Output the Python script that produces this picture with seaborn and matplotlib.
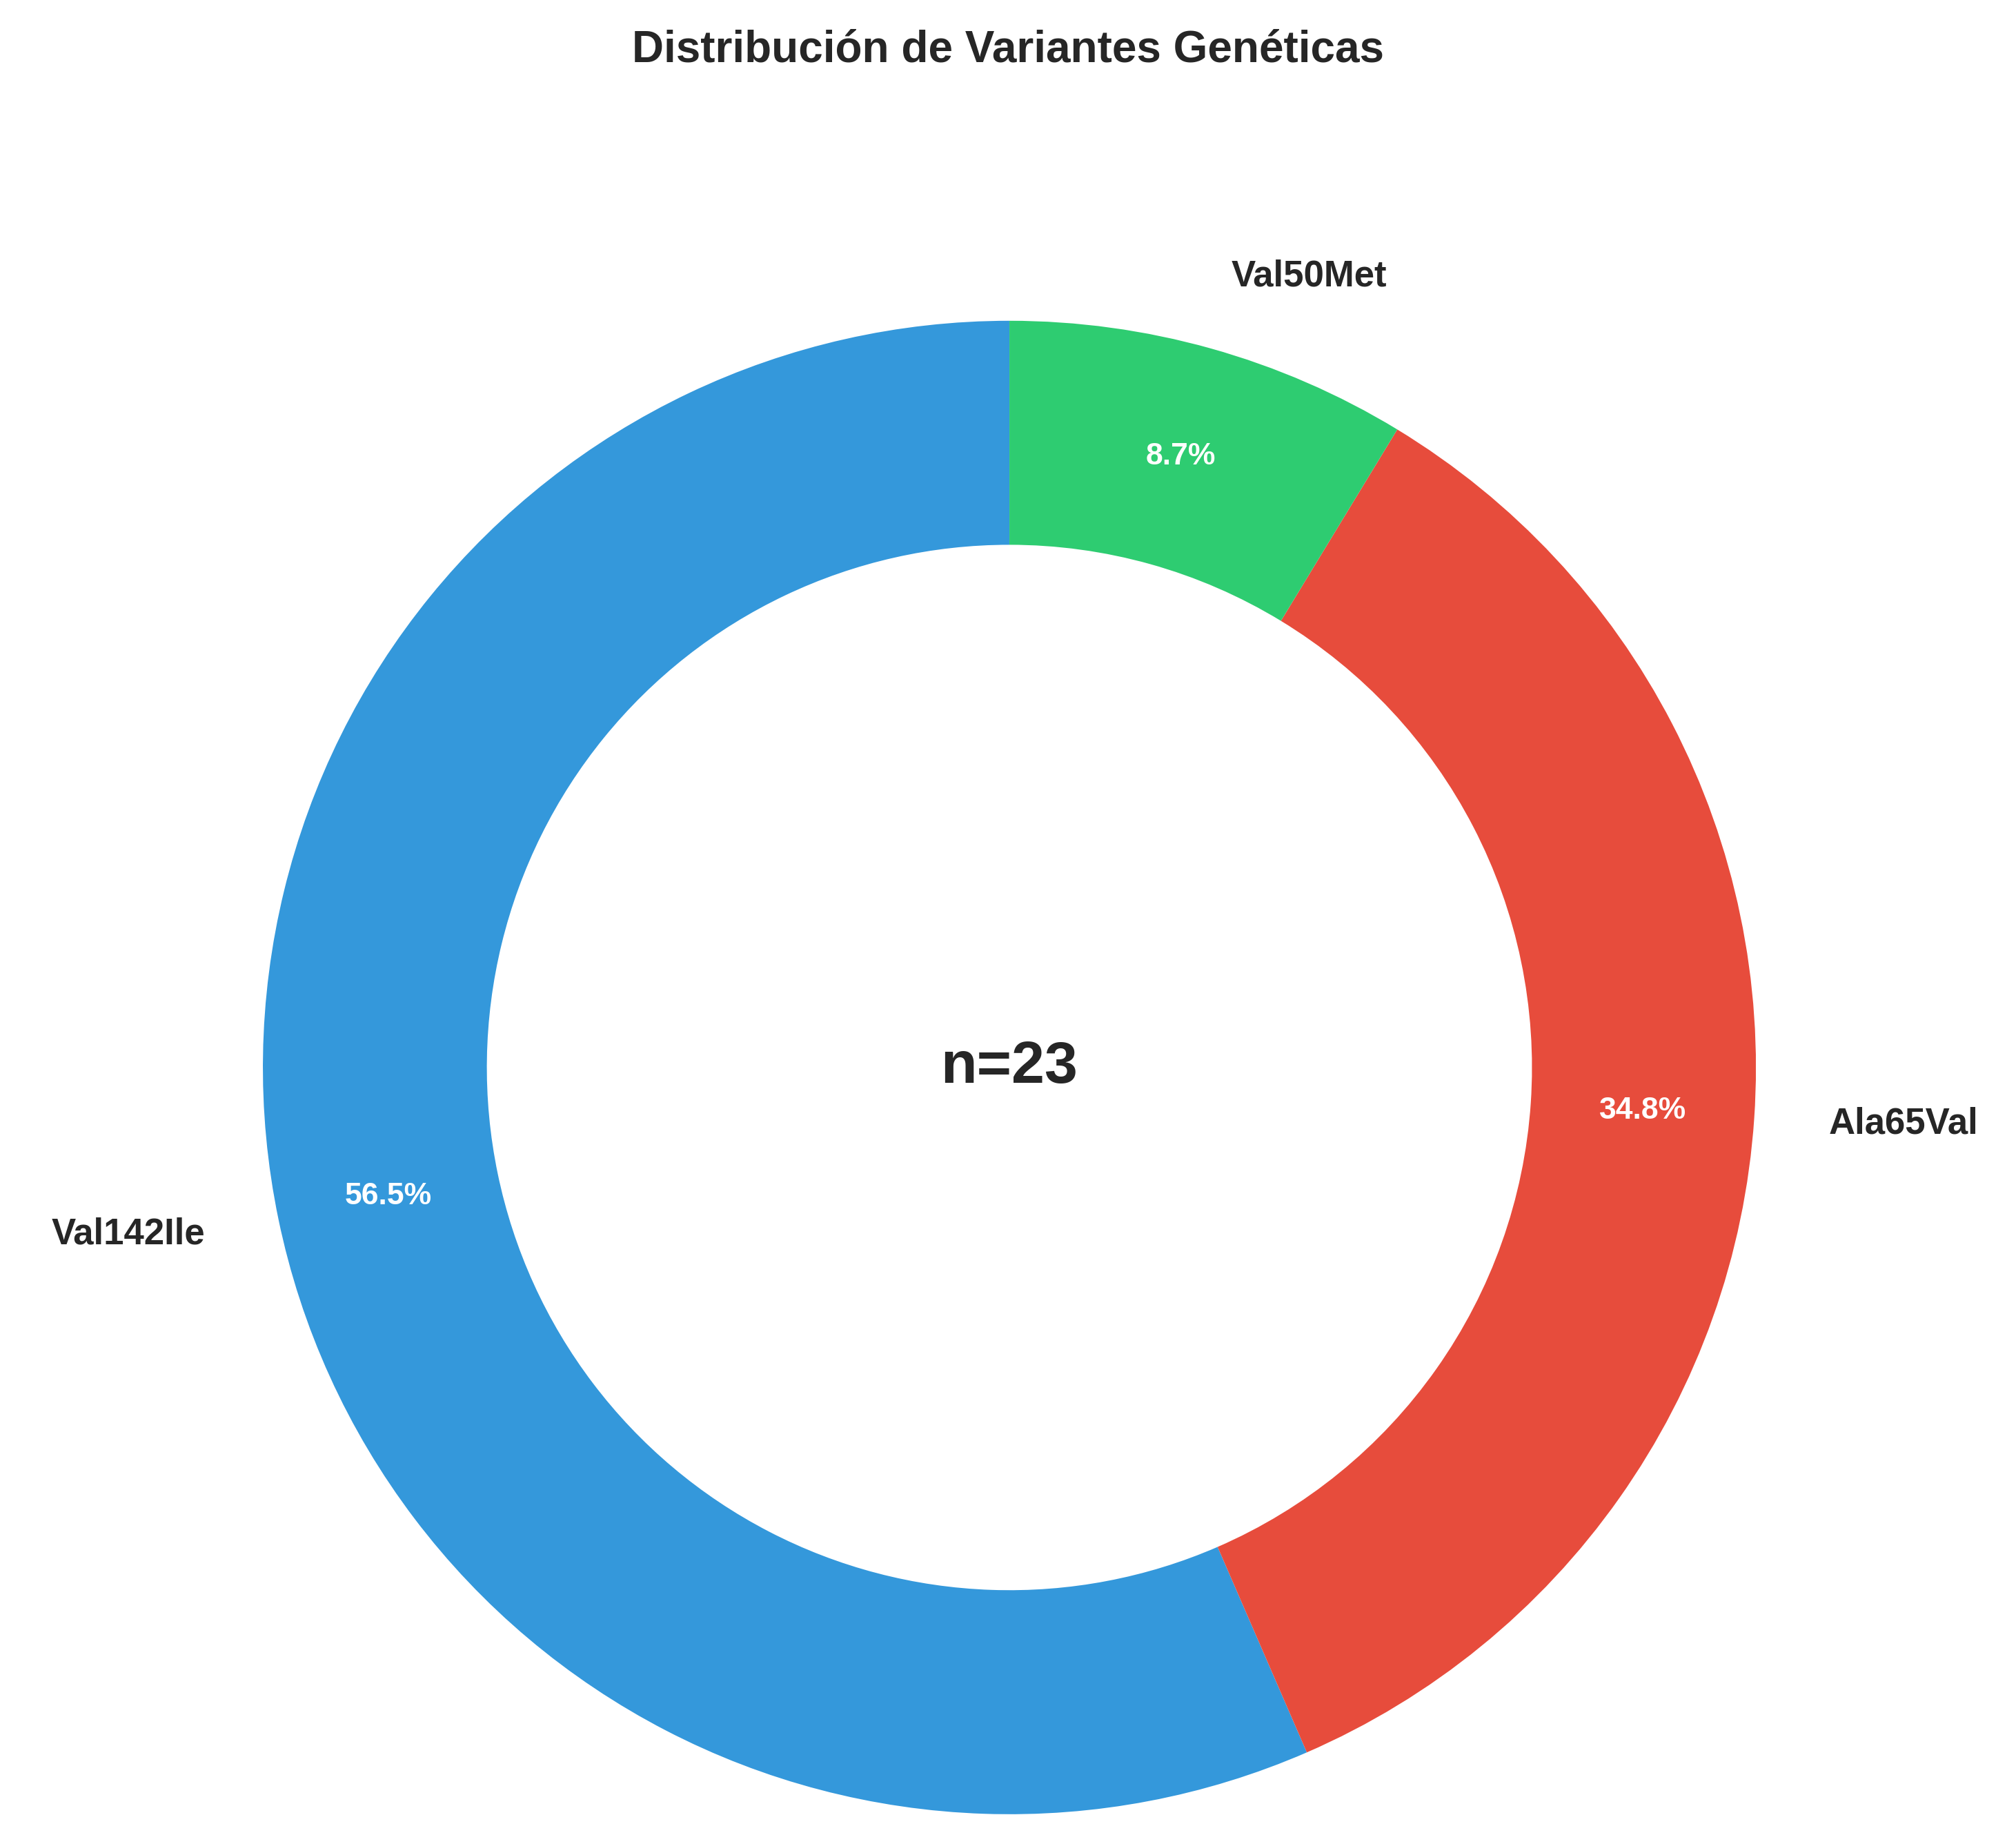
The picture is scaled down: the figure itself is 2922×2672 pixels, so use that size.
import matplotlib
matplotlib.use("Agg")
import matplotlib.pyplot as plt
import seaborn as sns

sns.set_theme(style="white")
plt.rcParams['font.family'] = ['Liberation Sans', 'DejaVu Sans']

variants = ["Val142Ile", "Ala65Val", "Val50Met"]
counts = [13, 8, 2]
colors = ["#3498db", "#e74c3c", "#2ecc71"]

fig = plt.figure(figsize=(14.61, 13.36), dpi=200)
ax = fig.add_axes([0.1304, 0.0161, 0.7406, 0.81])
wedges, texts, autotexts = ax.pie(
    counts, labels=variants, colors=colors, startangle=90,
    autopct="%1.1f%%", pctdistance=0.85, labeldistance=1.1,
    wedgeprops=dict(width=0.3, edgecolor="none"),
    textprops=dict(fontsize=19, fontweight="bold", color="#262626"))
for t in autotexts:
    t.set_color("white")
    t.set_fontsize(16)
    t.set_fontweight("bold")
ax.set_xlim(-1, 1)
ax.set_ylim(-1, 1)
ax.set_aspect("equal")
ax.text(0, 0, f"n={sum(counts)}", ha="center", va="center", fontsize=31,
        fontweight="bold", color="#262626")
fig.text(0.5, 0.973, "Distribución de Variantes Genéticas", ha="center", va="center",
         fontsize=23, fontweight="bold", color="#262626")
fig.savefig("out.png", dpi=200)
